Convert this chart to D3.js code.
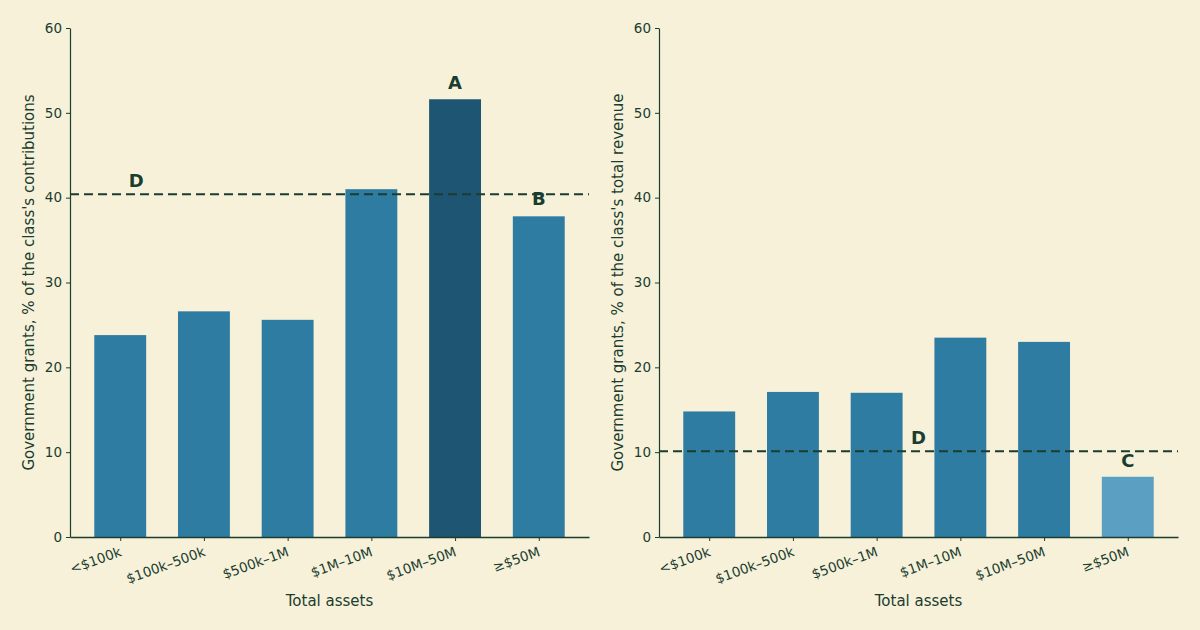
<!DOCTYPE html>
<html lang="en">
<head>
  <meta charset="UTF-8">
  <title>Government grants by asset class</title>
  <style>
    body {
      margin: 0;
      background: #f7f1d9;
      font-family: "DejaVu Sans", sans-serif;
    }
    svg { display: block; }
    .axis path, .axis line { stroke: #1a3d30; }
    .axis text { fill: #1a3d30; font-size: 13.5px; font-family: "DejaVu Sans", sans-serif; }
    .title { fill: #1a3d30; font-size: 15px; }
    .mark { fill: #1a3d30; font-size: 18px; font-weight: bold; }
  </style>
</head>
<body>
  <svg width="1200" height="630"></svg>
  <script src="https://d3js.org/d3.v7.min.js"></script>
  <script>
    const categories = ["<$100k", "$100k–500k", "$500k–1M", "$1M–10M", "$10M–50M", "≥$50M"];
    const contribShare = [23.8, 26.6, 25.6, 41.0, 51.6, 37.8];
    const revenueShare = [14.8, 17.1, 17.0, 23.5, 23.0, 7.1];
    const contribAvg = 40.4;
    const revenueAvg = 10.1;
    const yTicks = [0, 10, 20, 30, 40, 50, 60];

    const panels = [
      {
        left: 70, values: contribShare, avg: contribAvg,
        ylabel: "Government grants, % of the class's contributions",
        colors: ["#2f7ca3", "#2f7ca3", "#2f7ca3", "#2f7ca3", "#1d5572", "#2f7ca3"],
        marks: [
          { text: "A", x: 4, y: 52.8 },
          { text: "B", x: 5, y: 39.1 },
          { text: "D", x: 0.19, y: 41.3 }
        ]
      },
      {
        left: 659, values: revenueShare, avg: revenueAvg,
        ylabel: "Government grants, % of the class's total revenue",
        colors: ["#2f7ca3", "#2f7ca3", "#2f7ca3", "#2f7ca3", "#2f7ca3", "#5b9fc2"],
        marks: [
          { text: "C", x: 5, y: 8.3 },
          { text: "D", x: 2.5, y: 11.0 }
        ]
      }
    ];

    const svg = d3.select("svg");
    const plotW = 519, plotTop = 28, plotBottom = 537;

    const y = d3.scaleLinear().domain([0, 60]).range([plotBottom, plotTop]);

    panels.forEach(p => {
      const g = svg.append("g");
      // continuous x over category index, like matplotlib's bar positions
      const x = d3.scaleLinear().domain([-0.6, 5.6]).range([p.left, p.left + plotW]);
      const bw = x(0.62) - x(0);

      g.selectAll("rect")
        .data(p.values)
        .join("rect")
        .attr("x", (d, i) => x(i) - bw / 2)
        .attr("width", bw)
        .attr("y", d => y(d))
        .attr("height", d => y(0) - y(d))
        .attr("fill", (d, i) => p.colors[i]);

      g.append("line")
        .attr("x1", x(-0.6)).attr("x2", x(5.6))
        .attr("y1", y(p.avg)).attr("y2", y(p.avg))
        .attr("stroke", "#1a3d30")
        .attr("stroke-width", 2)
        .attr("stroke-dasharray", "9,5");

      g.selectAll(".mark")
        .data(p.marks)
        .join("text")
        .attr("class", "mark")
        .attr("x", d => x(d.x))
        .attr("y", d => y(d.y))
        .attr("text-anchor", "middle")
        .text(d => d.text);

      const yAxis = g.append("g")
        .attr("class", "axis")
        .attr("transform", `translate(${p.left},0)`)
        .call(d3.axisLeft(y).tickValues(yTicks).tickSize(4).tickPadding(4).tickSizeOuter(0));
      yAxis.select(".domain").attr("stroke-width", 1.2);

      const xAxis = g.append("g")
        .attr("class", "axis")
        .attr("transform", `translate(0,${plotBottom})`)
        .call(d3.axisBottom(x).tickValues(d3.range(categories.length))
          .tickFormat(i => categories[i]).tickSize(4).tickSizeOuter(0));
      xAxis.select(".domain").attr("stroke-width", 1.6);
      xAxis.selectAll("text")
        .attr("text-anchor", "end")
        .attr("dy", "0.35em")
        .attr("transform", "translate(0,14) rotate(-20)")
        .attr("y", 0)
        .attr("x", 0);

      g.append("text")
        .attr("class", "title")
        .attr("x", p.left + plotW / 2)
        .attr("y", 606)
        .attr("text-anchor", "middle")
        .text("Total assets");

      g.append("text")
        .attr("class", "title")
        .attr("transform", `translate(${p.left - 36},${(plotTop + plotBottom) / 2}) rotate(-90)`)
        .attr("text-anchor", "middle")
        .text(p.ylabel);
    });
  </script>
</body>
</html>
